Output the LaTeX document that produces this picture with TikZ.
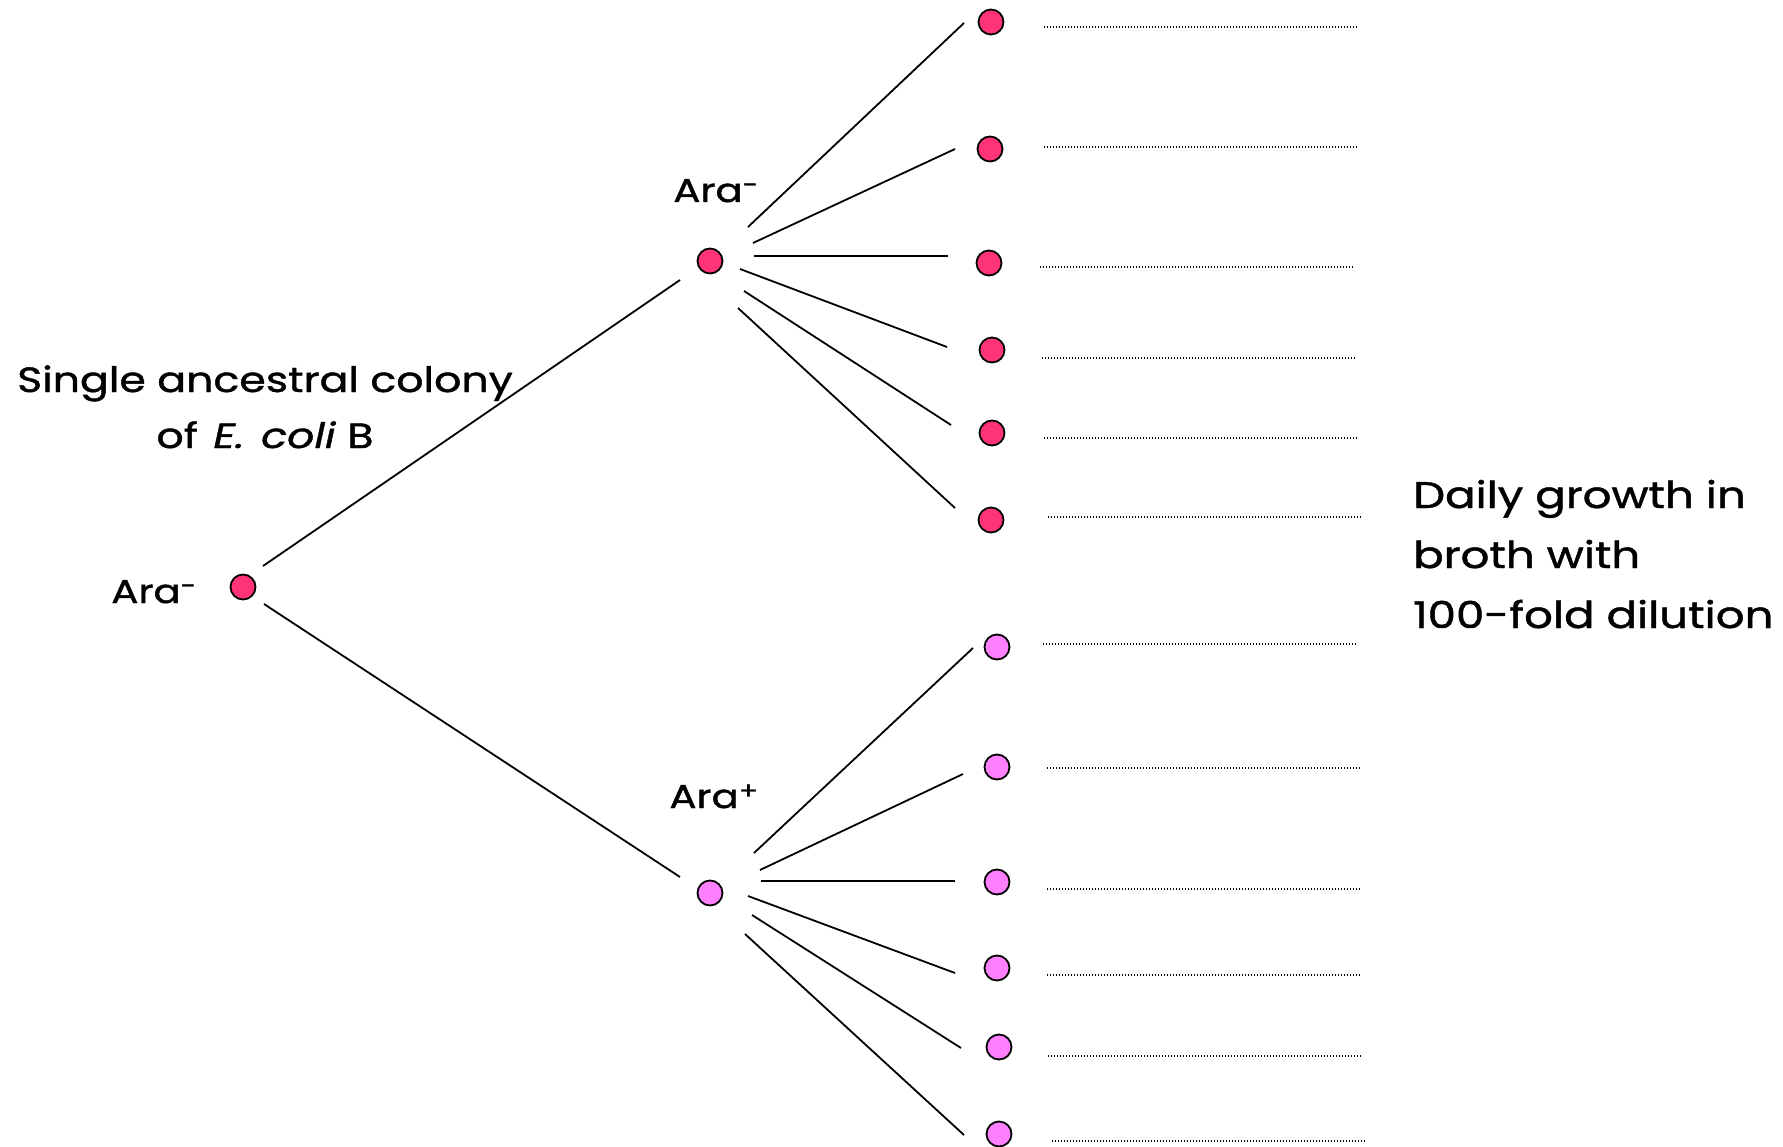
\documentclass[tikz,border=0pt]{standalone}
\usepackage{fontspec}
\setmainfont{Poppins}[FakeStretch=1.22,FakeBold=1.2]
\definecolor{pinkA}{RGB}{255,51,120}
\definecolor{pinkB}{RGB}{255,128,255}
\begin{document}
\begin{tikzpicture}[x=1pt,y=-1pt,
  dotbase/.style={circle,draw=black,line width=1.8pt,minimum size=25pt,inner sep=0pt},
  araminus/.style={dotbase,fill=pinkA},
  araplus/.style={dotbase,fill=pinkB},
  branch/.style={line width=1.8pt},
  dilution/.style={line width=1.3pt,dash pattern=on 1.3pt off 1.7pt},
  lbl/.style={font=\fontsize{33}{40}\selectfont,inner sep=0pt,anchor=base}]
\useasboundingbox (0,0) rectangle (1783,1147);
% nodes
\node[araminus] (root) at (243,587) {};
\node[araminus] (mu) at (710,261) {};
\node[araplus] (ml) at (710,893) {};
\node[araminus] (u1) at (991,22) {};
\node[araminus] (u2) at (990,149) {};
\node[araminus] (u3) at (989,263) {};
\node[araminus] (u4) at (992,350) {};
\node[araminus] (u5) at (992,433) {};
\node[araminus] (u6) at (991,520) {};
\node[araplus] (l1) at (997,647) {};
\node[araplus] (l2) at (997,767) {};
\node[araplus] (l3) at (997,882) {};
\node[araplus] (l4) at (997,968) {};
\node[araplus] (l5) at (999,1047) {};
\node[araplus] (l6) at (999,1134) {};
% labels
\node[lbl] (rootlbl) at (154,603) {Ara\textsuperscript{-}};
\node[lbl] (mulbl) at (716,202) {Ara\textsuperscript{-}};
\node[lbl] (mllbl) at (714,808) {Ara\textsuperscript{+}};
\node[lbl,align=center,font=\fontsize{35}{56}\selectfont] (anc) at (265,448) {Single ancestral colony\\of\hspace{0.12em} \textit{E.\hspace{0.12em} coli} B};
\node[lbl,anchor=base west,align=left,font=\fontsize{37}{60}\selectfont] (daily) at (1413,628) {Daily growth in\\broth with\\100-fold dilution};
% branch endpoints
\coordinate (ra1) at (263,566); \coordinate (rb1) at (680,280);
\coordinate (ra2) at (264,604); \coordinate (rb2) at (680,877);
\coordinate (ua1) at (748,227); \coordinate (ub1) at (964,23);
\coordinate (ua2) at (753,243); \coordinate (ub2) at (955,149);
\coordinate (ua3) at (754,256); \coordinate (ub3) at (948,256);
\coordinate (ua4) at (740,269); \coordinate (ub4) at (947,347);
\coordinate (ua5) at (744,291); \coordinate (ub5) at (951,425);
\coordinate (ua6) at (738,308); \coordinate (ub6) at (955,508);
\coordinate (la1) at (754,853); \coordinate (lb1) at (973,648);
\coordinate (la2) at (760,870); \coordinate (lb2) at (963,774);
\coordinate (la3) at (761,881); \coordinate (lb3) at (955,881);
\coordinate (la4) at (748,896); \coordinate (lb4) at (955,973);
\coordinate (la5) at (752,915); \coordinate (lb5) at (961,1048);
\coordinate (la6) at (745,934); \coordinate (lb6) at (964,1135);
\foreach \i in {1,2} \draw[branch] (ra\i) -- (rb\i);
\foreach \i in {1,...,6} {
  \draw[branch] (ua\i) -- (ub\i);
  \draw[branch] (la\i) -- (lb\i);
}
% dotted lines
\coordinate (ud1s) at (1044,27); \coordinate (ud1e) at (1357,27);
\coordinate (ud2s) at (1044,147); \coordinate (ud2e) at (1358,147);
\coordinate (ud3s) at (1040,267); \coordinate (ud3e) at (1354,267);
\coordinate (ud4s) at (1042,358); \coordinate (ud4e) at (1355,358);
\coordinate (ud5s) at (1044,438); \coordinate (ud5e) at (1358,438);
\coordinate (ud6s) at (1048,517); \coordinate (ud6e) at (1362,517);
\coordinate (ld1s) at (1043,644); \coordinate (ld1e) at (1357,644);
\coordinate (ld2s) at (1047,768); \coordinate (ld2e) at (1361,768);
\coordinate (ld3s) at (1047,889); \coordinate (ld3e) at (1361,889);
\coordinate (ld4s) at (1047,975); \coordinate (ld4e) at (1361,975);
\coordinate (ld5s) at (1048,1056); \coordinate (ld5e) at (1362,1056);
\coordinate (ld6s) at (1052,1141); \coordinate (ld6e) at (1365,1141);
\foreach \i in {1,...,6} {
  \draw[dilution] (ud\i s) -- (ud\i e);
  \draw[dilution] (ld\i s) -- (ld\i e);
}
\end{tikzpicture}
\end{document}
